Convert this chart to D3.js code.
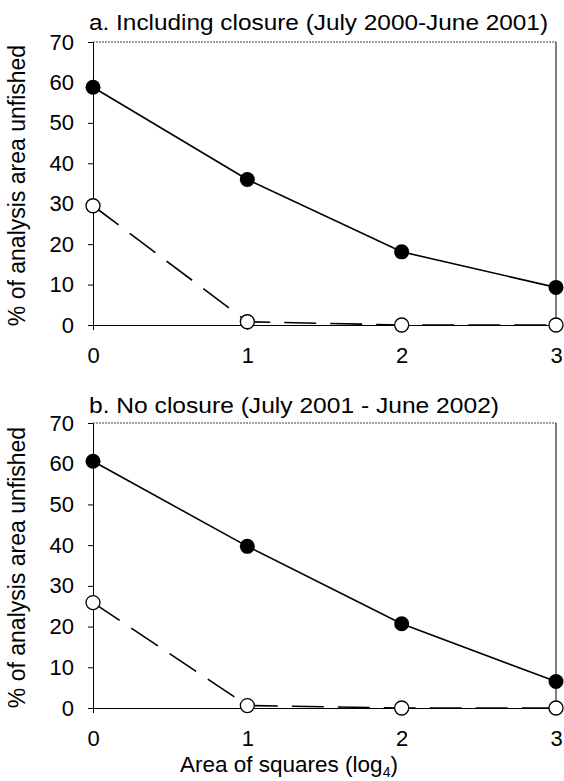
<!DOCTYPE html>
<html>
<head>
<meta charset="utf-8">
<script src="https://cdn.jsdelivr.net/npm/d3@7/dist/d3.min.js"></script>
<style>
  html, body { margin: 0; padding: 0; background: #fff; }
  svg { display: block; }
  text { font-family: "Liberation Sans", Arial, sans-serif; fill: #000; }
</style>
</head>
<body>
<svg id="chart" width="564" height="781"></svg>
<script>
// ---- data ----
const xValues = [0, 1, 2, 3];
const xTickLabels = ["0", "1", "2", "3"];
const yTickValues = [0, 10, 20, 30, 40, 50, 60, 70];
const panelTitles = [
  "a. Including closure (July 2000-June 2001)",
  "b. No closure (July 2001 - June 2002)"
];
const filledA = [58.8, 36.0, 18.1, 9.3];
const openA   = [29.5, 0.8, 0.0, 0.0];
const filledB = [60.6, 39.7, 20.7, 6.5];
const openB   = [25.9, 0.6, 0.0, 0.0];
const yAxisLabel = "% of analysis area unfished";
const xAxisLabel = "Area of squares (log";
const xAxisSub = "4";

// ---- layout ----
const svg = d3.select("#chart");
const left = 93, right = 556;
const panels = [
  { top: 42, bottom: 325, title: panelTitles[0], titleY: 29.5, titleLen: 459, filled: filledA, open: openA },
  { top: 423, bottom: 708, title: panelTitles[1], titleY: 413, titleLen: 410, filled: filledB, open: openB }
];

const x = d3.scaleLinear().domain([0, 3]).range([left, right]);

panels.forEach((p, i) => {
  const y = d3.scaleLinear().domain([0, 70]).range([p.bottom, p.top]);
  const g = svg.append("g");

  // frame: top (dotted, light) and right border
  g.append("line").attr("x1", left).attr("x2", right).attr("y1", p.top).attr("y2", p.top)
    .attr("stroke", "#444").attr("stroke-width", 1).attr("stroke-dasharray", "2,1");
  g.append("line").attr("x1", right).attr("x2", right).attr("y1", p.top).attr("y2", p.bottom)
    .attr("stroke", "#000").attr("stroke-width", 1);

  // y axis
  const ya = g.append("g").attr("transform", `translate(${left},0)`)
    .call(d3.axisLeft(y).tickValues(yTickValues).tickSize(5).tickSizeOuter(0).tickPadding(14)
      .tickFormat(d3.format("d")));
  ya.selectAll("text").style("font-size", "22px").style("font-family", '"Liberation Sans", Arial, sans-serif');
  ya.selectAll("line, path").attr("stroke", "#000").attr("stroke-width", 1);

  // x axis
  const xa = g.append("g").attr("transform", `translate(0,${p.bottom})`)
    .call(d3.axisBottom(x).tickValues(xValues).tickSize(5).tickSizeOuter(0).tickPadding(17)
      .tickFormat((d, k) => xTickLabels[k]));
  xa.selectAll("text").style("font-size", "22px").style("font-family", '"Liberation Sans", Arial, sans-serif');
  xa.selectAll("line, path").attr("stroke", "#000").attr("stroke-width", 1);

  // title
  g.append("text").attr("x", 89).attr("y", p.titleY)
    .attr("textLength", p.titleLen).attr("lengthAdjust", "spacingAndGlyphs")
    .style("font-size", "22px").text(p.title);

  // y axis label
  g.append("text")
    .attr("transform", `translate(25,${(p.top + p.bottom) / 2 + 2}) rotate(-90)`)
    .attr("text-anchor", "middle")
    .style("font-size", "23px").text(yAxisLabel);

  const line = d3.line().x((d, k) => x(xValues[k])).y(d => y(d));

  // open series (dashed)
  g.append("path").datum(p.open).attr("d", line)
    .attr("fill", "none").attr("stroke", "#000").attr("stroke-width", 1.6)
    .attr("stroke-dasharray", "32,14");
  // filled series (solid)
  g.append("path").datum(p.filled).attr("d", line)
    .attr("fill", "none").attr("stroke", "#000").attr("stroke-width", 1.6);

  g.selectAll("circle.open").data(p.open).enter().append("circle")
    .attr("class", "open")
    .attr("cx", (d, k) => x(xValues[k])).attr("cy", d => y(d)).attr("r", 7)
    .attr("fill", "#fff").attr("stroke", "#000").attr("stroke-width", 1.3);
  g.selectAll("circle.filled").data(p.filled).enter().append("circle")
    .attr("class", "filled")
    .attr("cx", (d, k) => x(xValues[k])).attr("cy", d => y(d)).attr("r", 7.5)
    .attr("fill", "#000");
});

// x axis title
const xt = svg.append("text").attr("x", 180).attr("y", 772).style("font-size", "22.5px");
xt.append("tspan").text(xAxisLabel);
xt.append("tspan").attr("dy", 5).style("font-size", "14px").text(xAxisSub);
xt.append("tspan").attr("dy", -5).text(")");
</script>
</body>
</html>
